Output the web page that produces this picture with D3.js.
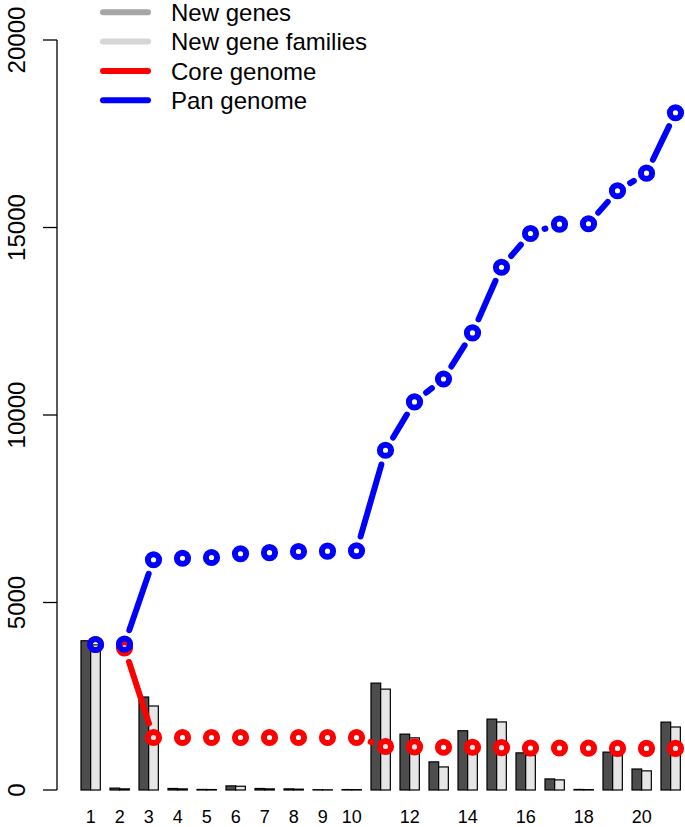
<!DOCTYPE html>
<html><head><meta charset="utf-8">
<script src="https://cdn.jsdelivr.net/npm/d3@7"></script>
<style>body{margin:0;background:#fff}svg{display:block;font-family:"Liberation Sans",Arial,Helvetica,sans-serif}</style>
</head><body>
<svg id="c" width="685" height="827"></svg>
<script>
const genomes = d3.range(1, 22);
const xTickLabels = [1,2,3,4,5,6,7,8,9,10,12,14,16,18,20];
const yTicks = [0, 5000, 10000, 15000, 20000];
const newGenes =    [3980, 50, 2480, 40, 15, 110, 40, 30, 8, 12, 2850, 1490, 750, 1580, 1890, 990, 295, 15, 1010, 560, 1810];
const newFamilies = [3870, 30, 2240, 30, 12, 100, 30, 22, 6, 10, 2690, 1390, 615, 1240, 1815, 920, 270, 10, 920, 510, 1680];
const coreGenome =  [3880, 3790, 1400, 1400, 1400, 1400, 1400, 1400, 1400, 1400, 1160, 1150, 1140, 1140, 1130, 1120, 1120, 1115, 1110, 1110, 1110];
const panGenome =   [3880, 3890, 6140, 6180, 6200, 6300, 6330, 6360, 6370, 6380, 9060, 10350, 10960, 12190, 13940, 14840, 15090, 15100, 15980, 16450, 18060];
const legendItems = [
  {label: "New genes", color: "#a6a6a6"},
  {label: "New gene families", color: "#d6d6d6"},
  {label: "Core genome", color: "#ff0000"},
  {label: "Pan genome", color: "#0000ff"}
];

const svg = d3.select("#c");
const y = d3.scaleLinear().domain([0, 20000]).range([790, 40]);
const x0 = d3.scaleBand().domain(genomes).range([81, 680.33]).paddingInner(1/3).paddingOuter(0);
const x1 = d3.scaleBand().domain(["g","f"]).range([0, x0.bandwidth()]);

// bars
const grp = svg.append("g").selectAll("g").data(genomes).join("g")
  .attr("transform", d => `translate(${x0(d)},0)`);
grp.append("rect").attr("x", x1("g")).attr("width", x1.bandwidth())
  .attr("y", (d,i) => y(newGenes[i])).attr("height", (d,i) => y(0) - y(newGenes[i]))
  .attr("fill", "#4d4d4d").attr("stroke", "#000").attr("stroke-width", 1.2);
grp.append("rect").attr("x", x1("f")).attr("width", x1.bandwidth())
  .attr("y", (d,i) => y(newFamilies[i])).attr("height", (d,i) => y(0) - y(newFamilies[i]))
  .attr("fill", "#e6e6e6").attr("stroke", "#000").attr("stroke-width", 1.2);

// points x at centre of second bar
const px = d => x0(d) + x1("f") + x1.bandwidth() / 2;

function drawSeries(vals, color) {
  const pts = genomes.map((g, i) => [px(g), y(vals[i])]);
  const gap = 14.8;
  const segs = [];
  for (let i = 0; i < pts.length - 1; i++) {
    const [ax, ay] = pts[i], [bx, by] = pts[i+1];
    const dx = bx - ax, dy = by - ay, d = Math.hypot(dx, dy);
    if (d > 2 * gap) {
      const ux = dx / d, uy = dy / d;
      segs.push([ax + ux*gap, ay + uy*gap, bx - ux*gap, by - uy*gap]);
    }
  }
  const g = svg.append("g");
  g.selectAll("line").data(segs).join("line")
    .attr("x1", s => s[0]).attr("y1", s => s[1]).attr("x2", s => s[2]).attr("y2", s => s[3])
    .attr("stroke", color).attr("stroke-width", 6).attr("stroke-linecap", "round");
  g.selectAll("circle").data(pts).join("circle")
    .attr("cx", p => p[0]).attr("cy", p => p[1]).attr("r", 5.6)
    .attr("fill", "none").attr("stroke", color).attr("stroke-width", 6);
}
drawSeries(coreGenome, "#ff0000");
drawSeries(panGenome, "#0000ff");

// y axis
const ya = svg.append("g");
ya.append("line").attr("x1", 57).attr("x2", 57).attr("y1", y(20000)).attr("y2", y(0))
  .attr("stroke", "#000").attr("stroke-width", 1.3);
ya.selectAll("line.t").data(yTicks).join("line").attr("class","t")
  .attr("x1", 43).attr("x2", 57).attr("y1", d => y(d)).attr("y2", d => y(d))
  .attr("stroke", "#000").attr("stroke-width", 1.3);
ya.selectAll("text").data(yTicks).join("text")
  .attr("transform", d => `translate(25,${y(d)}) rotate(-90)`)
  .attr("text-anchor", "middle").attr("font-size", 24).text(d => d);

// x labels
svg.append("g").selectAll("text").data(xTickLabels).join("text")
  .attr("x", d => x0(d) + x0.bandwidth()/2).attr("y", 823)
  .attr("text-anchor", "middle").attr("font-size", 18).text(d => d);

// legend
const lg = svg.append("g").selectAll("g").data(legendItems).join("g")
  .attr("transform", (d,i) => `translate(0,${12.3 + i*29.3})`);
lg.append("line").attr("x1", 103).attr("x2", 148).attr("y1", 0).attr("y2", 0)
  .attr("stroke", d => d.color).attr("stroke-width", 6).attr("stroke-linecap", "round");
lg.append("text").attr("x", 171).attr("y", 0).attr("dy", "0.36em")
  .attr("font-size", 24).text(d => d.label);
</script>
</body></html>
